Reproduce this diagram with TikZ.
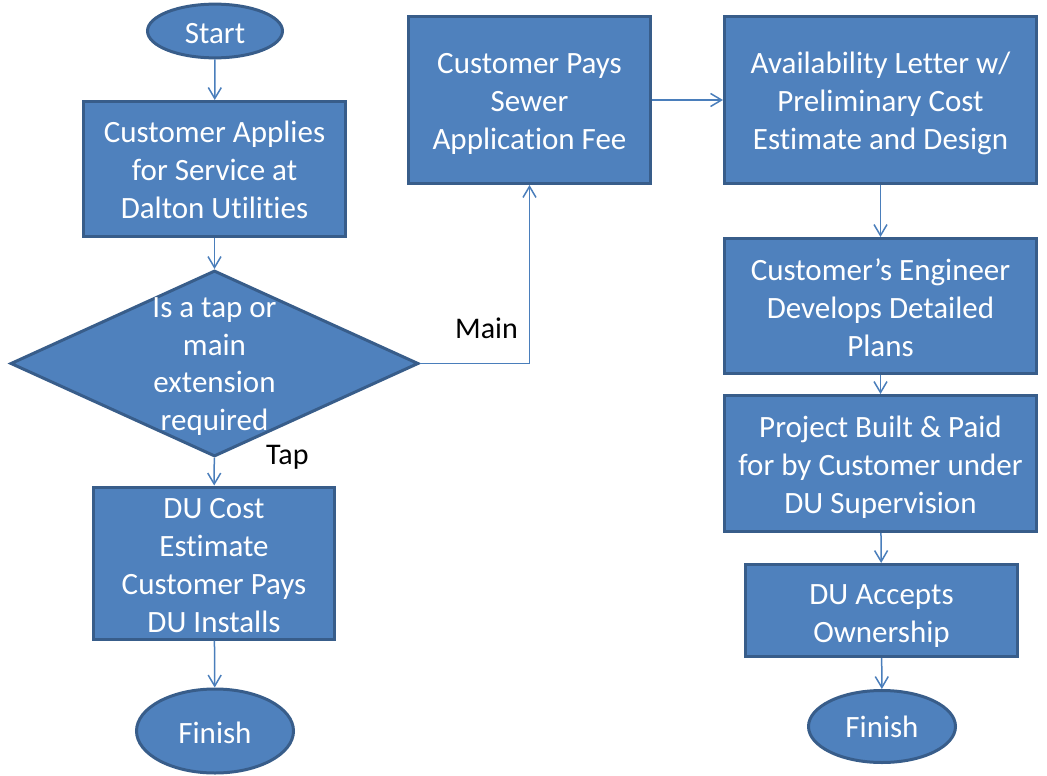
\documentclass[tikz,border=0pt]{standalone}
\usepackage{fontspec}
\setmainfont{Carlito}[Ligatures=NoCommon]
\usetikzlibrary{shapes.geometric,arrows.meta}
\definecolor{boxfill}{HTML}{4F81BD}
\definecolor{boxline}{HTML}{385D8A}
\definecolor{connline}{HTML}{4A7EBB}
\newcommand\lowtxt[2]{\raisebox{-#1pt}[\height][\depth]{\begin{tabular}{@{}c@{}}#2\end{tabular}}}
\tikzset{
  base/.style={fill=boxfill,draw=boxline,line width=3pt,text=white,inner sep=0pt,
    font=\fontsize{31}{38}\selectfont},
  procbox/.style={base,rectangle},
  term/.style={base,ellipse},
  decide/.style={base,diamond},
  conn/.style={draw=connline,line width=1.5pt,-{Straight Barb[length=11pt,width=13pt]}},
  lbl/.style={font=\fontsize{30}{36}\selectfont,text=black,inner sep=0pt}
}
\begin{document}
\begin{tikzpicture}[x=1pt,y=-1pt]
\useasboundingbox (0,0) rectangle (1047,776);
% left column
\node[term,minimum width=135,minimum height=51] (start) at (215,31) {\lowtxt{5}{Start}};
\node[procbox,minimum width=262,minimum height=135] (apply) at (214.5,169) {\lowtxt{4}{Customer Applies\\for Service at\\Dalton Utilities}};
\node[decide,minimum width=408,minimum height=186] (d) at (214.5,363.5) {};
\node[text=white,inner sep=0pt,font=\fontsize{31}{37.5}\selectfont] (dtext) at (d.center) {\lowtxt{3}{Is a tap or\\main\\extension\\required}};
\node[procbox,minimum width=241,minimum height=147] (cost) at (214,563) {\lowtxt{5}{DU Cost\\Estimate\\Customer Pays\\DU Installs}};
\node[term,minimum width=157,minimum height=84] (fin1) at (215,731) {\lowtxt{5}{Finish}};
% middle
\node[procbox,minimum width=242,minimum height=167] (fee) at (529.5,100) {\lowtxt{4}{Customer Pays\\Sewer\\Application Fee}};
% right column
\node[procbox,minimum width=312,minimum height=167] (avail) at (880.5,100) {\lowtxt{4}{Availability Letter w/\\Preliminary Cost\\Estimate and Design}};
\node[procbox,minimum width=312,minimum height=135] (eng) at (880.5,306) {\lowtxt{5}{Customer’s Engineer\\Develops Detailed\\Plans}};
\node[procbox,minimum width=312,minimum height=136] (built) at (880.5,463.5) {\lowtxt{4}{Project Built \& Paid\\for by Customer under\\DU Supervision}};
\node[procbox,minimum width=272,minimum height=92] (accept) at (881.5,610.5) {\lowtxt{5}{DU Accepts\\Ownership}};
\node[term,minimum width=147,minimum height=72] (fin2) at (882,726.5) {\lowtxt{3}{Finish}};
% labels
\node[lbl,anchor=base east] (lmain) at (518,338) {Main};
\node[lbl,anchor=base west] (ltap) at (266,464) {Tap};
% connectors
\draw[conn] (start) -- (apply);
\draw[conn] (apply) -- (d);
\draw[conn] (d) -- (cost);
\draw[conn] (cost) -- (fin1);
\draw[conn] (d.east) -| (fee.south);
\draw[conn] (fee) -- (avail);
\draw[conn] (avail) -- (eng);
\draw[conn] (eng) -- (built);
\draw[conn] (built) -- (accept);
\draw[conn] (accept) -- (fin2);
\end{tikzpicture}
\end{document}
